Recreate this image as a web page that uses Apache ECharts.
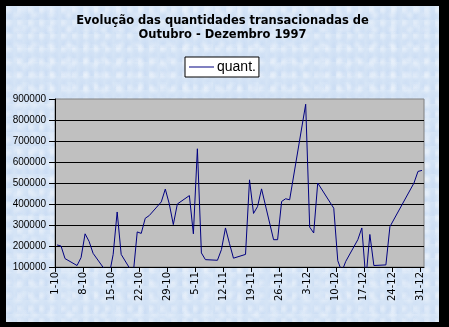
<!DOCTYPE html>
<html>
<head>
<meta charset="utf-8">
<script src="https://cdn.jsdelivr.net/npm/echarts@6/dist/echarts.min.js"></script>
<style>
  html, body { margin: 0; padding: 0; background: #000; width: 449px; height: 327px; overflow: hidden; }
  #c { position: absolute; left: 6px; top: 6px; width: 433px; height: 316px;
       background-color: #d5e4f6;
       background-image:
         radial-gradient(ellipse at 20% 30%, rgba(255,255,255,0.40) 0, rgba(255,255,255,0) 5px),
         radial-gradient(ellipse at 70% 60%, rgba(255,255,255,0.30) 0, rgba(255,255,255,0) 6px),
         radial-gradient(ellipse at 45% 85%, rgba(185,208,240,0.35) 0, rgba(185,208,240,0) 5px),
         radial-gradient(ellipse at 85% 15%, rgba(240,246,253,0.35) 0, rgba(240,246,253,0) 7px);
       background-size: 11px 13px, 17px 15px, 9px 14px, 23px 19px; }
</style>
</head>
<body>
<div id="c"></div>
<script>
// Trading dates (day-month, 1997) and traded quantities
const datesOct = ['1-10','2-10','3-10','6-10','7-10','8-10','9-10','10-10','13-10','14-10','15-10','16-10','17-10','20-10','21-10','22-10','23-10','24-10','27-10','28-10','29-10','30-10','31-10'];
const valuesOct = [205000,200000,140000,107000,145000,258000,222000,165000,85000,60000,160000,362000,160000,66000,267000,260000,332000,345000,410000,471000,400000,302000,400000];
const datesNov = ['3-11','4-11','5-11','6-11','7-11','10-11','11-11','12-11','13-11','14-11','17-11','18-11','19-11','20-11','21-11','24-11','25-11','26-11','27-11','28-11'];
const valuesNov = [440000,258000,663000,167000,135000,132000,183000,286000,212000,142000,160000,515000,355000,388000,472000,230000,230000,412000,425000,420000];
const datesDec = ['2-12','3-12','4-12','5-12','9-12','10-12','11-12','12-12','15-12','16-12','17-12','18-12','19-12','22-12','23-12','29-12','30-12','31-12'];
const valuesDec = [875000,290000,262000,500000,380000,130000,78000,127000,230000,286000,40000,255000,107000,110000,292000,500000,555000,560000];

const xTickLabels = ['1-10','8-10','15-10','22-10','29-10','5-11','12-11','19-11','26-11','3-12','10-12','17-12','24-12','31-12'];
const yMin = 100000, yMax = 900000, yStep = 100000;
const seriesName = 'quant.';
const titleText = 'Evolução das quantidades transacionadas de\nOutubro - Dezembro 1997';

const start = Date.UTC(1997, 9, 1);
function dayIndex(s) {
  const [d, m] = s.split('-').map(Number);
  return (Date.UTC(1997, m - 1, d) - start) / 86400000;
}
const allDates = datesOct.concat(datesNov, datesDec);
const allValues = valuesOct.concat(valuesNov, valuesDec);
// each day occupies one slot; point sits in the middle of its day slot
const seriesData = allDates.map((s, i) => [dayIndex(s) + 0.5, allValues[i]]);

const nDays = dayIndex('31-12') + 1; // 92 slots
const catData = [];
for (let i = 0; i <= nDays; i++) catData.push(i % 7 === 0 && xTickLabels[i / 7] ? xTickLabels[i / 7] : '');

const chart = echarts.init(document.getElementById('c'), null, { renderer: 'canvas' });
chart.setOption({
  animation: false,
  backgroundColor: 'transparent',
  title: {
    text: titleText,
    left: 'center',
    top: 8,
    padding: 0,
    textStyle: { fontFamily: 'DejaVu Sans', fontWeight: 'bold', fontSize: 11.5, lineHeight: 14, color: '#000' }
  },
  legend: {
    data: [seriesName],
    left: 179,
    top: 51,
    padding: [2, 3, 2, 4],
    backgroundColor: '#fff',
    borderColor: '#000',
    borderWidth: 1,
    borderRadius: 0,
    icon: 'rect',
    itemWidth: 25,
    itemHeight: 1,
    textStyle: { fontFamily: 'Liberation Sans', fontSize: 14, lineHeight: 16, color: '#000', padding: [0, 0, 0, -2] }
  },
  grid: {
    left: 49, top: 93, width: 369, height: 168,
    show: true, backgroundColor: '#c0c0c0', borderColor: '#808080', borderWidth: 1
  },
  xAxis: [
    { type: 'value', min: 0, max: nDays, show: false },
    {
      type: 'category', data: catData, boundaryGap: false, position: 'bottom',
      axisLine: { show: true, lineStyle: { color: '#000', width: 1 } },
      axisTick: { show: true, length: 5, interval: (i) => i % 7 === 0, lineStyle: { color: '#000' } },
      axisLabel: { show: true, interval: 0, rotate: 90, margin: 5, fontFamily: 'DejaVu Sans', fontSize: 10, color: '#000' },
      splitLine: { show: false }
    }
  ],
  yAxis: {
    type: 'value', min: yMin, max: yMax, interval: yStep,
    axisLine: { show: true, lineStyle: { color: '#000', width: 1 } },
    axisTick: { show: true, length: 6, lineStyle: { color: '#000' } },
    axisLabel: { margin: 9, fontFamily: 'Liberation Sans', fontSize: 10, color: '#000', formatter: (v) => String(v) },
    splitLine: { show: true, showMinLine: false, showMaxLine: false, lineStyle: { color: '#000', width: 1 } }
  },
  series: [{
    name: seriesName,
    type: 'line',
    xAxisIndex: 0,
    data: seriesData,
    symbol: 'none',
    showSymbol: false,
    clip: true,
    lineStyle: { color: '#000080', width: 1 },
    itemStyle: { color: '#000080' }
  }]
});
</script>
</body>
</html>
